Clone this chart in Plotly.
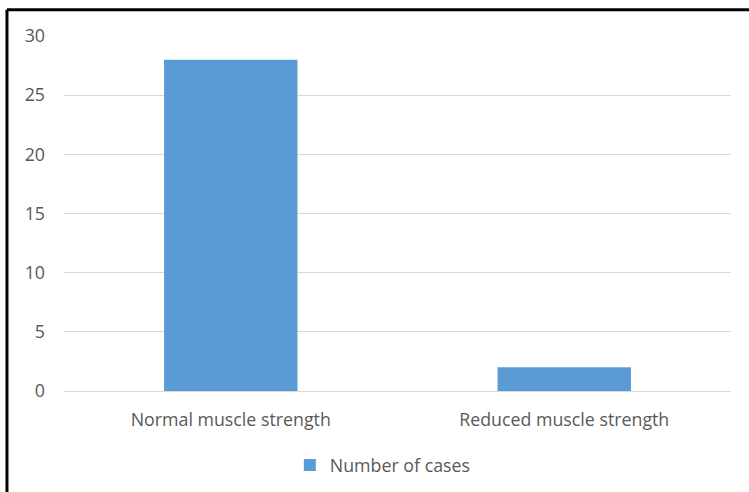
import plotly.graph_objects as go

categories = ["Normal muscle strength", "Reduced muscle strength"]
cases = [28, 2]
series_name = "Number of cases"
y_ticks = [0, 5, 10, 15, 20, 25, 30]

BAR_COLOR = "#5B9BD5"
TEXT_COLOR = "#595959"
GRID_COLOR = "#D9D9D9"
FONT = "Open Sans"
FONT_SIZE = 17.8

fig = go.Figure(
    go.Bar(
        x=categories,
        y=cases,
        name=series_name,
        marker=dict(color=BAR_COLOR, line=dict(width=0)),
        showlegend=True,
    )
)

fig.update_layout(
    width=749,
    height=492,
    margin=dict(l=64, r=18, t=36, b=101, autoexpand=False),
    paper_bgcolor="white",
    plot_bgcolor="white",
    bargap=0.6,
    font=dict(family=FONT, size=FONT_SIZE, color=TEXT_COLOR),
    legend=dict(
        orientation="h",
        x=0.478,
        xanchor="center",
        y=-0.21,
        yanchor="middle",
        font=dict(family=FONT, size=FONT_SIZE, color=TEXT_COLOR),
        itemwidth=30,
    ),
    xaxis=dict(
        automargin=False,
        showgrid=False,
        showline=False,
        ticks="",
        ticklabelstandoff=16,
        tickfont=dict(family=FONT, size=FONT_SIZE, color=TEXT_COLOR),
    ),
    yaxis=dict(
        automargin=False,
        range=[0, 30],
        tickvals=y_ticks,
        showgrid=True,
        gridcolor=GRID_COLOR,
        gridwidth=1,
        zeroline=True,
        zerolinecolor=GRID_COLOR,
        zerolinewidth=1,
        showline=False,
        ticks="",
        ticklabelstandoff=18,
        tickfont=dict(family=FONT, size=FONT_SIZE, color=TEXT_COLOR),
    ),
    shapes=[
        # frame around the chart: top and left edges
        dict(type="line", xref="paper", yref="paper", x0=-0.0855, x1=1.1,
             y0=1.074, y1=1.074, line=dict(color="black", width=3)),
        dict(type="line", xref="paper", yref="paper", x0=-0.0855, x1=-0.0855,
             y0=1.074, y1=-0.3, line=dict(color="black", width=3)),
    ],
)

fig.write_html("out.html")
